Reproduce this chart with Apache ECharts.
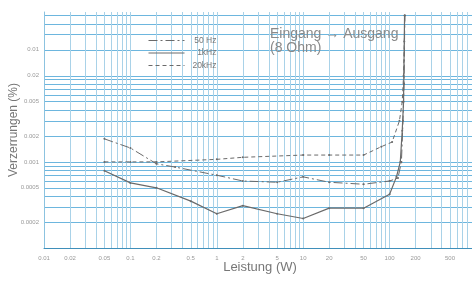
<!DOCTYPE html>
<html>
<head>
<meta charset="utf-8">
<script src="https://cdn.jsdelivr.net/npm/echarts@6/dist/echarts.min.js"></script>
<style>
  html, body { margin: 0; padding: 0; background: #fff; }
  #chart { width: 472px; height: 282px; }
</style>
</head>
<body>
<div id="chart"></div>
<script>
// distortion (%) over output power (W)
const hz50 = [
  [0.05, 0.00185], [0.1, 0.00145], [0.2, 0.00095], [0.33, 0.00087], [1, 0.0007],
  [2, 0.0006], [5, 0.00058], [10, 0.00067], [20, 0.00058], [50, 0.00055],
  [100, 0.0006], [125, 0.00065], [137, 0.001], [143, 0.003], [147, 0.008], [150, 0.05]
];
const khz1 = [
  [0.05, 0.00079], [0.1, 0.00057], [0.2, 0.0005], [0.5, 0.00035], [1, 0.00025],
  [2, 0.00031], [5, 0.00025], [10, 0.00022], [20, 0.00029], [50, 0.00029],
  [100, 0.00042], [120, 0.00067], [133, 0.001], [140, 0.0023], [145, 0.005], [149, 0.05]
];
const khz20 = [
  [0.05, 0.001], [0.1, 0.001], [0.2, 0.001], [1, 0.00107], [2, 0.00113],
  [10, 0.0012], [20, 0.0012], [50, 0.0012], [80, 0.0015], [107, 0.0017],
  [130, 0.003], [140, 0.005], [145, 0.01], [148, 0.025], [150, 0.05]
];
const seriesNames = ['50 Hz', '1kHz', '20kHz'];

const xLabelValues = [0.01, 0.02, 0.05, 0.1, 0.2, 0.5, 1, 2, 5, 10, 20, 50, 100, 200, 500];
const yLabelValues = [0.0002, 0.0005, 0.001, 0.002, 0.005, 0.01, 0.02];
// the scan prints these two labels swapped
const yLabelText = { 0.02: '0.01', 0.01: '0.02' };

// graph paper lines at 1..9 of every decade
function decadeLines(lo, hi) {
  const out = [];
  for (let d = lo; d <= hi; d *= 10) {
    for (let k = 1; k <= 9; k++) out.push(+(k * d).toPrecision(3));
  }
  return out;
}

const chart = echarts.init(document.getElementById('chart'));
const lineColor = '#6a6a6a';
const fontFamily = 'Liberation Sans, Arial, sans-serif';

chart.setOption({
  backgroundColor: '#fff',
  animation: false,
  grid: { left: 44, right: -4, top: 12, bottom: 34, outerBoundsMode: 'none' },
  legend: {
    data: seriesNames,
    orient: 'vertical',
    left: 143,
    top: 31,
    itemWidth: 36,
    itemHeight: 8,
    itemGap: 3.5,
    itemStyle: { opacity: 0 },
    lineStyle: { width: 1, color: lineColor },
    formatter: name => '{r|' + name + '}',
    textStyle: {
      color: '#777',
      fontSize: 8,
      fontFamily,
      rich: { r: { width: 27, align: 'right', fontSize: 8.5, color: '#777', fontFamily } }
    }
  },
  xAxis: {
    type: 'log',
    min: 0.01,
    max: 1000,
    name: 'Leistung (W)',
    nameLocation: 'middle',
    nameGap: 13,
    nameMoveOverlap: false,
    nameTextStyle: { color: '#777', fontSize: 13, fontFamily },
    axisLine: { show: true, lineStyle: { color: '#3f8fba', width: 1 } },
    axisTick: { show: false, customValues: decadeLines(0.01, 100) },
    axisLabel: {
      customValues: xLabelValues,
      color: '#999',
      fontSize: 6,
      fontFamily,
      margin: 7,
      formatter: v => String(+v.toPrecision(3))
    },
    splitLine: { show: true, lineStyle: { color: '#a9d2e8', width: 1 } }
  },
  yAxis: {
    type: 'log',
    min: 0.0001,
    max: 0.055,
    name: 'Verzerrungen (%)',
    nameLocation: 'middle',
    nameGap: 24,
    nameMoveOverlap: false,
    nameTextStyle: { color: '#777', fontSize: 12, fontFamily },
    axisLine: { show: true, lineStyle: { color: '#8cc3e0', width: 1 } },
    axisTick: { show: false, customValues: decadeLines(0.0001, 0.01).filter(v => v <= 0.05) },
    axisLabel: {
      customValues: yLabelValues,
      color: '#999',
      fontSize: 6,
      fontFamily,
      margin: 5,
      formatter: v => yLabelText[+v.toPrecision(3)] || String(+v.toPrecision(3))
    },
    splitLine: { show: true, lineStyle: { color: '#6db6de', width: 1 } }
  },
  graphic: [
    {
      type: 'text',
      left: 270,
      top: 27,
      z: 100,
      style: {
        text: 'Eingang \u2192 Ausgang\n(8 Ohm)',
        fill: '#8a8a8a',
        font: '14px Liberation Sans, Arial, sans-serif',
        lineHeight: 14
      }
    }
  ],
  series: [
    {
      name: seriesNames[0],
      type: 'line',
      data: hz50,
      symbol: 'circle',
      symbolSize: 2,
      itemStyle: { color: lineColor },
      lineStyle: { color: lineColor, width: 1, type: [9, 3, 2, 3] }
    },
    {
      name: seriesNames[1],
      type: 'line',
      data: khz1,
      symbol: 'circle',
      symbolSize: 2,
      itemStyle: { color: lineColor },
      lineStyle: { color: lineColor, width: 1.2, type: 'solid' }
    },
    {
      name: seriesNames[2],
      type: 'line',
      data: khz20,
      symbol: 'circle',
      symbolSize: 2,
      itemStyle: { color: lineColor },
      lineStyle: { color: lineColor, width: 1, type: [4, 3] }
    }
  ]
});
</script>
</body>
</html>
